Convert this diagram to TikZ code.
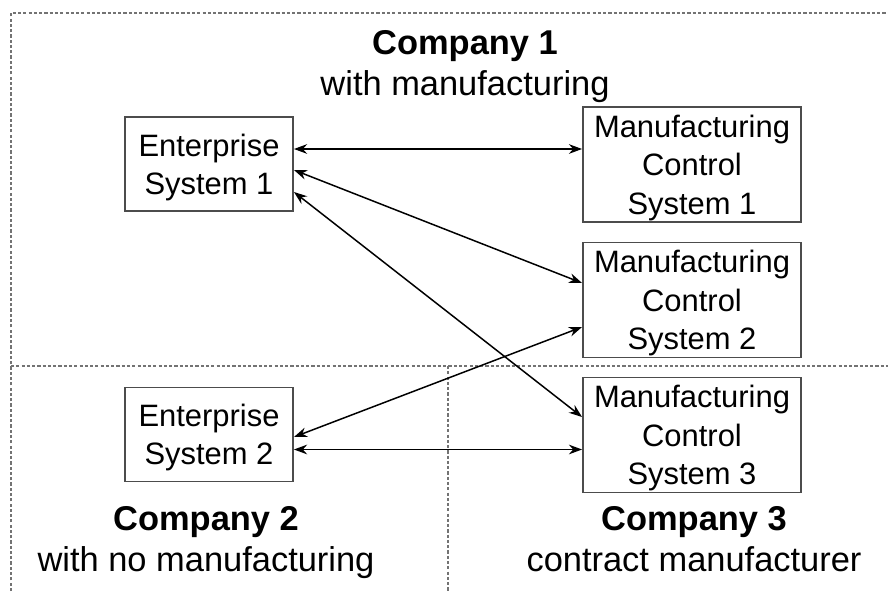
\documentclass[tikz,border=0pt]{standalone}
\usepackage{fontspec}
\setmainfont{Liberation Sans}
\usetikzlibrary{arrows.meta,positioning,calc}

\begin{document}
\begin{tikzpicture}[x=0.02cm,y=-0.02cm,>={Stealth[length=7.5pt,width=5.5pt]},
  sys/.style={draw=black!70,line width=1.1pt,inner sep=0pt,align=center,text depth=0pt,
    font=\fontsize{17.6}{21.8}\selectfont},
  es/.style={sys,minimum width=3.36cm,minimum height=1.88cm},
  mcs/.style={sys,minimum width=4.36cm,minimum height=2.3cm},
  co/.style={align=center,text depth=0pt,font=\fontsize{19.6}{22.8}\selectfont},
  zone/.style={draw=black!55,line width=0.8pt,dash pattern=on 1.8pt off 1.2pt},
  link/.style={<->,line width=0.85pt}]
\useasboundingbox (0,0) rectangle (888,591);
\draw[zone] (11,591) -- (11,13) -- (888,13);
\draw[zone] (11,366) -- (888,366);
\draw[zone] (448,366) -- (448,591);
\node[co] (c1) at (465,63) {\textbf{Company 1}\\with manufacturing};
\node[co] (c2) at (206,539) {\textbf{Company 2}\\with no manufacturing};
\node[co] (c3) at (694,539) {\textbf{Company 3}\\contract manufacturer};
\node[es] (es1) at (209,164) {Enterprise\\System 1};
\node[es] (es2) at (209,434.5) {Enterprise\\System 2};
\node[mcs] (m1) at (692,164.5) {Manufacturing\\Control\\System 1};
\node[mcs] (m2) at (692,300) {Manufacturing\\Control\\System 2};
\node[mcs] (m3) at (692,435) {Manufacturing\\Control\\System 3};
\draw[link] ([yshift=0.3cm]es1.east) -- ([yshift=0.3cm]es1.east -| m1.west);
\draw[link] ([yshift=-0.12cm]es1.east) -- ([yshift=0.34cm]m2.west);
\draw[link] ([yshift=-0.56cm]es1.east) -- ([yshift=0.36cm]m3.west);
\draw[link] ([yshift=-0.05cm]es2.east) -- ([yshift=-0.54cm]m2.west);
\draw[link] ([yshift=-0.3cm]es2.east) -- ([yshift=-0.3cm]es2.east -| m3.west);
\end{tikzpicture}
\end{document}
